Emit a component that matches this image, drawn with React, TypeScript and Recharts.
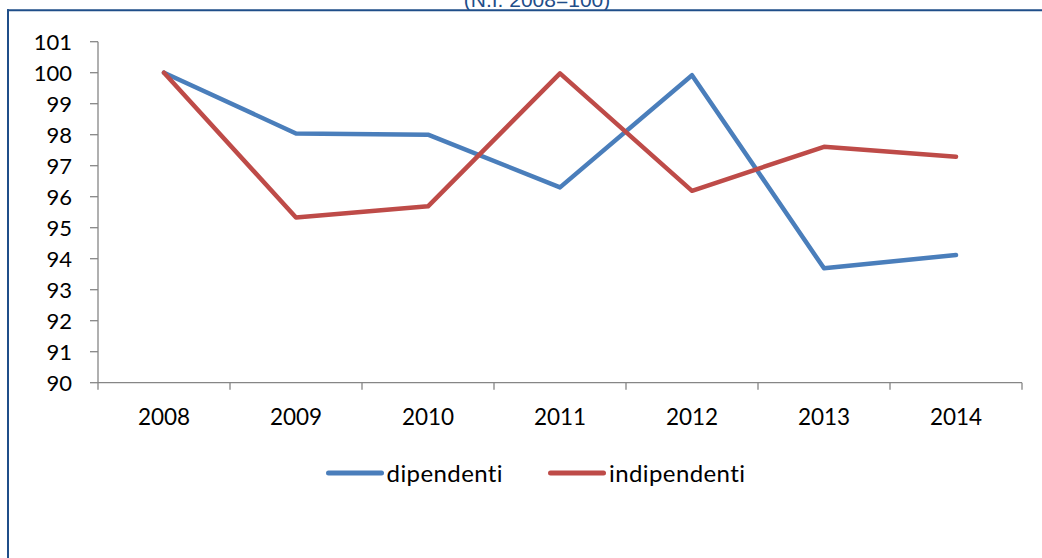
import React from 'react';
import { LineChart, Line, XAxis, YAxis, Legend } from 'recharts';

const years = ['2008', '2009', '2010', '2011', '2012', '2013', '2014'];
const dipendenti = [100, 98.04, 98.0, 96.3, 99.92, 93.69, 94.12];
const indipendenti = [100, 95.33, 95.69, 99.98, 96.19, 97.61, 97.29];
const yTicks = [90, 91, 92, 93, 94, 95, 96, 97, 98, 99, 100, 101];

const W = 1042;
const H = 558;
const margin = { top: 41.7, right: 20, bottom: 115.3, left: 0 };
const Y_AXIS_W = 98;
const band = (W - Y_AXIS_W - margin.right) / years.length;

const AXIS = '#868686';
const BLUE = '#4A7EBB';
const RED = '#BE4B48';
const FRAME = '#1F4E89';
const FONT = 'Lato, "Open Sans", sans-serif';

const chartData = years.map((year, i) => ({
  year,
  dipendenti: dipendenti[i],
  indipendenti: indipendenti[i],
}));

// Excel-style category ticks: marks sit between the categories
const YearTick = (props: any) => {
  const { x, y, payload, index } = props;
  const last = index === years.length - 1;
  return (
    <g>
      <line x1={x - band / 2} y1={y} x2={x - band / 2} y2={y + 7} stroke={AXIS} strokeWidth={1.3} />
      {last && <line x1={x + band / 2} y1={y} x2={x + band / 2} y2={y + 7} stroke={AXIS} strokeWidth={1.3} />}
      <text x={x} y={y + 42} textAnchor="middle" fill="#000" fontSize={22.5} fontFamily={FONT}>
        {payload.value}
      </text>
    </g>
  );
};

const LegendContent = () => {
  const items = [
    { name: 'dipendenti', color: BLUE },
    { name: 'indipendenti', color: RED },
  ];
  return (
    <div style={{ display: 'flex', justifyContent: 'center', alignItems: 'center', fontFamily: FONT, fontSize: 24, letterSpacing: 0.4 }}>
      {items.map((it, i) => (
        <div key={it.name} style={{ display: 'flex', alignItems: 'center', marginLeft: i ? 45 : 0 }}>
          <svg width={58} height={10} style={{ marginRight: 3 }}>
            <line x1={2.5} y1={5} x2={55.5} y2={5} stroke={it.color} strokeWidth={5} strokeLinecap="round" />
          </svg>
          <span style={{ color: '#000' }}>{it.name}</span>
        </div>
      ))}
    </div>
  );
};

export default function App() {
  return (
    <div style={{ position: 'absolute', left: 0, top: 0, width: W, height: H, background: '#fff', overflow: 'hidden' }}>
      <svg width={W} height={H} style={{ position: 'absolute', left: 0, top: 0 }}>
        <text x={537} y={6.5} textAnchor="middle" fill={FRAME} fontSize={21} fontFamily='"Liberation Sans", Arial, sans-serif'>
          (N.I. 2008=100)
        </text>
        <line x1={7} y1={10.2} x2={W} y2={10.2} stroke={FRAME} strokeWidth={2} />
        <line x1={8} y1={9.2} x2={8} y2={H} stroke={FRAME} strokeWidth={2} />
      </svg>
      <div style={{ position: 'absolute', left: 0, top: 0 }}>
        <LineChart width={W} height={H} data={chartData} margin={margin} style={{ outline: 'none' }}>
          <XAxis
            dataKey="year"
            stroke={AXIS}
            strokeWidth={1.3}
            tickLine={false}
            tickSize={0}
            tickMargin={0}
            height={60}
            interval={0}
            padding={{ left: band / 2, right: band / 2 }}
            tick={<YearTick />}
          />
          <YAxis
            width={Y_AXIS_W}
            domain={[90, 101]}
            ticks={yTicks}
            interval={0}
            stroke={AXIS}
            strokeWidth={1.3}
            tickSize={8}
            tickMargin={18}
            tick={{ fill: '#000', fontSize: 22, fontFamily: FONT }}
          />
          <Legend
            layout="horizontal"
            verticalAlign="middle"
            align="center"
            wrapperStyle={{ top: 458, left: 29, width: 1013 }}
            content={<LegendContent />}
          />
          <Line
            type="linear"
            dataKey="dipendenti"
            stroke={BLUE}
            strokeWidth={4.5}
            dot={false}
            strokeLinejoin="round"
            strokeLinecap="round"
            isAnimationActive={false}
          />
          <Line
            type="linear"
            dataKey="indipendenti"
            stroke={RED}
            strokeWidth={4.5}
            dot={false}
            strokeLinejoin="round"
            strokeLinecap="round"
            isAnimationActive={false}
          />
        </LineChart>
      </div>
    </div>
  );
}
